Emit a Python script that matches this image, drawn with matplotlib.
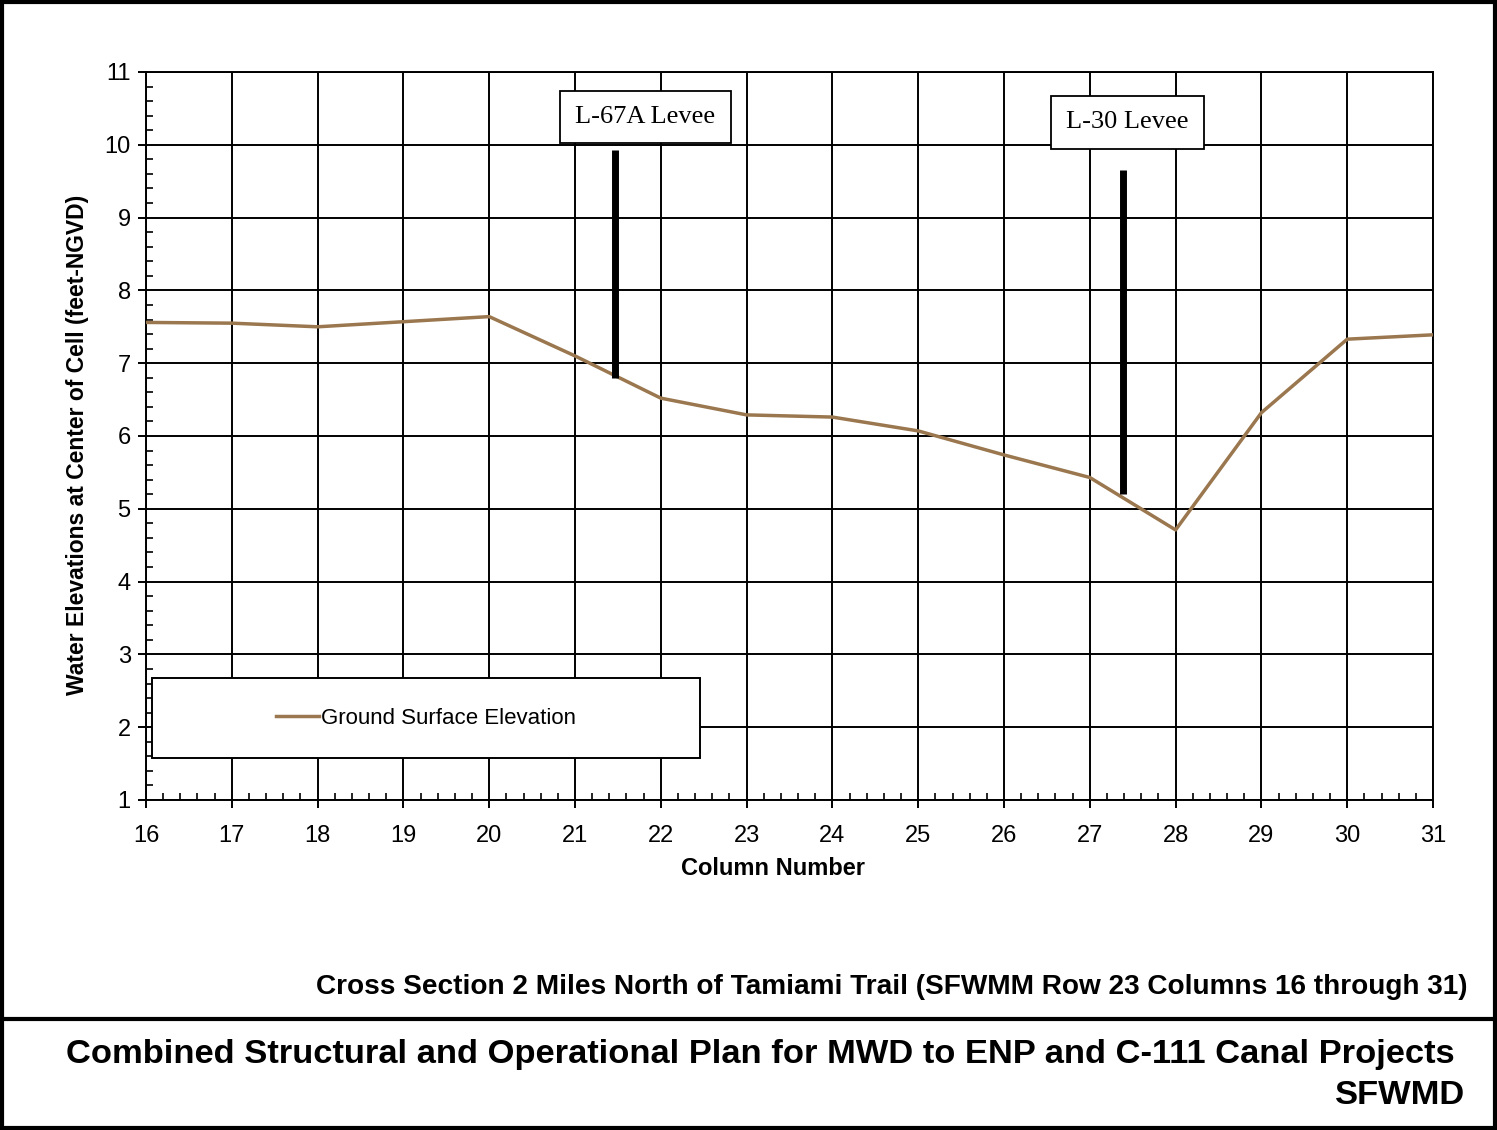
import matplotlib
matplotlib.use("Agg")
import matplotlib.pyplot as plt
from matplotlib.patches import Rectangle
from matplotlib.lines import Line2D
from matplotlib.ticker import MultipleLocator

# ---- data ----
columns = [16, 17, 18, 19, 20, 21, 22, 23, 24, 25, 26, 27, 28, 29, 30, 31]
ground_elev = [7.56, 7.55, 7.50, 7.57, 7.64, 7.10, 6.52, 6.29, 6.26, 6.07, 5.74, 5.43, 4.71, 6.32, 7.33, 7.39]
series_label = "Ground Surface Elevation"

levee_names = ["L-67A Levee", "L-30 Levee"]
levee_x = [21.47, 27.39]
levee_top = [9.93, 9.65]
levee_bottom = [6.80, 5.20]
levee_label_x = [21.82, 27.44]
levee_label_y = [10.38, 10.31]

x_ticks = list(range(16, 32))
y_ticks = list(range(1, 12))

xlabel = "Column Number"
ylabel = "Water Elevations at Center of Cell (feet-NGVD)"
subtitle = "Cross Section 2 Miles North of Tamiami Trail (SFWMM Row 23 Columns 16 through 31)"
footer1 = "Combined Structural and Operational Plan for MWD to ENP and C-111 Canal Projects"
footer2 = "SFWMD"

line_color = "#9A774E"
sans = ["Liberation Sans", "DejaVu Sans"]
serif = ["Liberation Serif", "DejaVu Serif"]

fig = plt.figure(figsize=(14.97, 11.30), dpi=100)
fig.patch.set_facecolor("white")

ax = fig.add_axes([146/1497, 1 - 800/1130, (1433-146)/1497, (800-72)/1130])
ax.set_xlim(16, 31)
ax.set_ylim(1, 11)
ax.set_xticks(x_ticks)
ax.set_yticks(y_ticks)
ax.xaxis.set_minor_locator(MultipleLocator(0.2))
ax.yaxis.set_minor_locator(MultipleLocator(0.2))
ax.grid(True, which="major", color="black", linewidth=1.4)
ax.set_axisbelow(True)
for s in ax.spines.values():
    s.set_linewidth(1.4)
ax.tick_params(which="major", direction="out", length=6, width=1.4, labelsize=17)
ax.tick_params(axis="x", which="major", pad=12)
ax.tick_params(axis="y", which="major", pad=5)
ax.tick_params(which="minor", direction="in", length=5, width=1.2)
for lab in ax.get_xticklabels() + ax.get_yticklabels():
    lab.set_family(sans)

ax.plot(columns, ground_elev, color=line_color, linewidth=2.5, zorder=3, label=series_label)

# Levee markers
for name, lx, lt, lb, tx, ty in zip(levee_names, levee_x, levee_top, levee_bottom, levee_label_x, levee_label_y):
    ax.plot([lx, lx], [lb, lt], color="black", linewidth=5, solid_capstyle="butt", zorder=4)
    ax.text(tx, ty, name, family=serif, fontsize=19, ha="center", va="center", zorder=5,
            bbox=dict(boxstyle="square,pad=0.58", facecolor="white", edgecolor="black", linewidth=1.3))

ax.set_xlabel(xlabel, fontsize=17, fontweight="bold", family=sans)
ax.xaxis.set_label_coords((773-146)/1287, -(857-800)/728)
ax.set_ylabel(ylabel, fontsize=16.5, fontweight="bold", family=sans)
ax.yaxis.set_label_coords(-(146-89)/1287, (800-445)/728)

# Legend box
lx0 = (152-146)/1287
ly0 = (800-758)/728
lw = (700-152)/1287
lh = (758-678)/728
ax.add_patch(Rectangle((lx0, ly0), lw, lh, transform=ax.transAxes, facecolor="white",
                       edgecolor="black", linewidth=1.4, zorder=6))
leg = ax.legend(loc="center", bbox_to_anchor=(lx0 + lw/2, ly0 + lh/2), frameon=False,
                prop={"family": sans, "size": 16}, handlelength=1.9, handletextpad=0.1)
leg.set_zorder(7)

# Texts
fig.text(1467/1497, 1 - 987/1130, subtitle, ha="right", va="center", fontsize=20.2,
         fontweight="bold", family=sans)
fig.text(1455/1497, 1 - 1055/1130, footer1, ha="right", va="center", fontsize=24.8,
         fontweight="bold", family=sans)
fig.text(1465/1497, 1 - 1095/1130, footer2, ha="right", va="center", fontsize=24.8,
         fontweight="bold", family=sans)

# Frame and separator
fig.add_artist(Rectangle((2/1497, 2/1130), 1 - 4/1497, 1 - 4/1130, transform=fig.transFigure,
                         fill=False, edgecolor="black", linewidth=3))
fig.add_artist(Line2D([0, 1], [1 - 1019/1130, 1 - 1019/1130], transform=fig.transFigure,
                      color="black", linewidth=3))

fig.savefig("out.png", dpi=100)
